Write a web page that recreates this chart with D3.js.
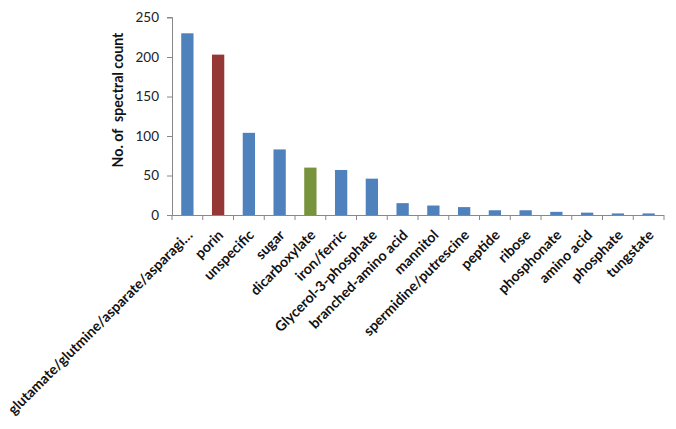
<!DOCTYPE html>
<html>
<head>
<meta charset="utf-8">
<script src="https://cdn.jsdelivr.net/npm/d3@7"></script>
<style>
  body { margin: 0; background: #fff; }
  svg { display: block; font-family: Lato, "Open Sans", sans-serif; }
</style>
</head>
<body>
<svg id="chart"></svg>
<script>
// data
const categories = [
  "glutamate/glutmine/asparate/asparagi…", "porin", "unspecific", "sugar",
  "dicarboxylate", "iron/ferric", "Glycerol-3-phosphate", "branched-amino acid",
  "mannitol", "spermidine/putrescine", "peptide", "ribose", "phosphonate",
  "amino acid", "phosphate", "tungstate"
];
const counts = [230, 203, 104, 83, 60, 57, 46, 15, 12, 10, 6, 6, 4, 3, 2, 2];
const barColors = [
  "#4f81bd", "#953735", "#4f81bd", "#4f81bd", "#77933c", "#4f81bd", "#4f81bd", "#4f81bd",
  "#4f81bd", "#4f81bd", "#4f81bd", "#4f81bd", "#4f81bd", "#4f81bd", "#4f81bd", "#4f81bd"
];
const yTicks = [0, 50, 100, 150, 200, 250];

const width = 676, height = 429;
const plot = { left: 172, right: 664, top: 17.5, bottom: 215 };

const svg = d3.select("#chart").attr("width", width).attr("height", height);

let x = d3.scaleBand()
  .domain(categories)
  .range([plot.left, plot.right])
  .paddingInner(0.6)
  .paddingOuter(0.3);

let y = d3.scaleLinear().domain([0, 250]).range([plot.bottom, plot.top]);

// bars
svg.append("g")
  .selectAll("rect")
  .data(categories)
  .enter()
  .append("rect")
  .attr("x", (d) => x(d))
  .attr("width", x.bandwidth())
  .attr("y", (d, i) => y(counts[i]))
  .attr("height", (d, i) => y(0) - y(counts[i]))
  .attr("fill", (d, i) => barColors[i]);

// y axis
const yAxis = svg.append("g")
  .attr("transform", `translate(${plot.left},0)`)
  .call(d3.axisLeft(y).tickValues(yTicks).tickSize(5).tickPadding(8));
yAxis.select(".domain").attr("stroke", "#888").attr("d", `M-5,${y(250)}H0.5V${y(0)}`);
yAxis.selectAll(".tick line").attr("stroke", "#888");
yAxis.selectAll(".tick text")
  .attr("font-size", 13.5)
  .attr("fill", "#222")
  .attr("font-family", "Lato, sans-serif");

// x axis: ticks at band boundaries, like the spreadsheet
const step = x.step();
const edges = d3.range(categories.length + 1).map((i) => plot.left + i * step);
const xAxis = svg.append("g");
xAxis.append("line")
  .attr("x1", plot.left).attr("x2", plot.right)
  .attr("y1", y(0) + 0.5).attr("y2", y(0) + 0.5)
  .attr("stroke", "#888");
xAxis.selectAll("line.tk")
  .data(edges)
  .enter()
  .append("line")
  .attr("class", "tk")
  .attr("x1", (d) => d).attr("x2", (d) => d)
  .attr("y1", y(0)).attr("y2", y(0) + 5)
  .attr("stroke", "#888");

// category labels rotated -45
svg.append("g")
  .selectAll("text")
  .data(categories)
  .enter()
  .append("text")
  .attr("transform", (d) => `translate(${x(d) + x.bandwidth() / 2 + 6},${y(0) + 21}) rotate(-45)`)
  .attr("text-anchor", "end")
  .attr("font-size", 14.2)
  .attr("font-weight", "bold")
  .attr("fill", "#111")
  .text((d) => d);

// y title
svg.append("text")
  .attr("transform", "translate(123,100) rotate(-90)")
  .attr("text-anchor", "middle")
  .attr("font-size", 14.2)
  .attr("font-weight", "bold")
  .attr("fill", "#111")
  .attr("xml:space", "preserve")
  .text("No. of  spectral count");
</script>
</body>
</html>
